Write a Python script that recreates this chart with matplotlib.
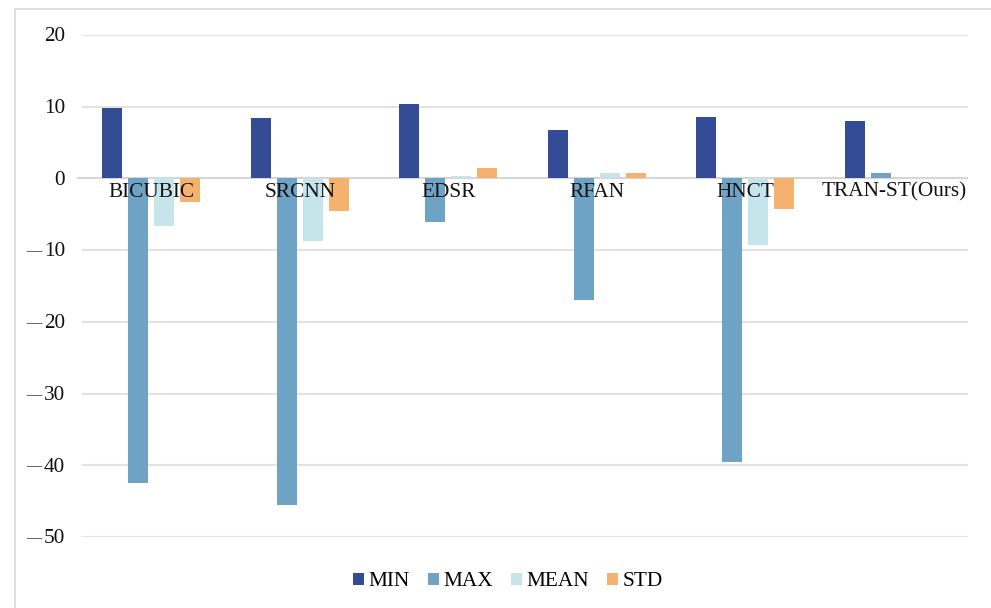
import matplotlib
matplotlib.use("Agg")
import matplotlib.pyplot as plt
from matplotlib.patches import Rectangle, Patch
import numpy as np

categories = ["BICUBIC", "SRCNN", "EDSR", "RFAN", "HNCT", "TRAN-ST(Ours)"]
series_names = ["MIN", "MAX", "MEAN", "STD"]
min_vals = [9.8, 8.4, 10.4, 6.8, 8.6, 8.0]
max_vals = [-42.5, -45.6, -6.1, -16.9, -39.5, 0.8]
mean_vals = [-6.7, -8.7, 0.4, 0.8, -9.3, 0.0]
std_vals = [-3.3, -4.5, 1.5, 0.7, -4.2, 0.0]
yticks = [20, 10, 0, -10, -20, -30, -40, -50]

colors = ["#344C96", "#6FA3C6", "#C6E4EC", "#F4B26E"]

plt.rcParams["font.family"] = ["Liberation Serif", "DejaVu Serif"]
FS = 15.3

fig = plt.figure(figsize=(9.91, 6.08), dpi=100)
fig.patches.append(Rectangle((15 / 991, -0.05), 1.2, 1 - 9 / 608 + 0.05,
                             transform=fig.transFigure, fill=False,
                             edgecolor="#D9D9D9", linewidth=1.2))

ax = fig.add_axes([77 / 991, 1 - 537 / 608, (968 - 77) / 991, (537 - 35) / 608])
x = np.arange(len(categories))
step = 0.175
width = 0.135
all_vals = [min_vals, max_vals, mean_vals, std_vals]
for i, (vals, c) in enumerate(zip(all_vals, colors)):
    ax.bar(x + (i - 1.5) * step, vals, width, color=c, zorder=3)

ax.set_xlim(-0.5, len(categories) - 0.5)
ax.set_ylim(-50, 20)
ax.set_yticks([])
ax.set_xticks([])
for t in yticks:
    if t != 0:
        ax.axhline(t, xmin=6 / 891, color="#E3E3E3", linewidth=1.5, zorder=1)
ax.axhline(0, color="#D6D6D6", linewidth=1.5, zorder=2)
for s in ax.spines.values():
    s.set_visible(False)

# y-axis labels: number plus a separate long dash for negatives
ylab = ax.get_yaxis_transform()
for t in yticks:
    ax.text(-12 / 891, t - 0.25, str(abs(t)), transform=ylab, ha="right", va="center",
            fontsize=FS, color="#111111")
    if t < 0:
        ax.text(-36 / 891, t - 0.25, "\u2014", transform=ylab, ha="right", va="center",
                fontsize=11, color="#333333")

for xi, name in zip(x, categories):
    ax.text(xi, -1.9, name, ha="center", va="center", fontsize=FS,
            color="#111111", zorder=5)

handles = [Patch(facecolor=c, edgecolor="none") for c in colors]
fig.legend(handles, series_names, loc="center", bbox_to_anchor=(508 / 991, 1 - 582 / 608),
           ncol=4, frameon=False, fontsize=FS, handlelength=0.52, handleheight=0.52,
           handletextpad=0.2, columnspacing=0.85)

fig.savefig("out.png", dpi=100)
